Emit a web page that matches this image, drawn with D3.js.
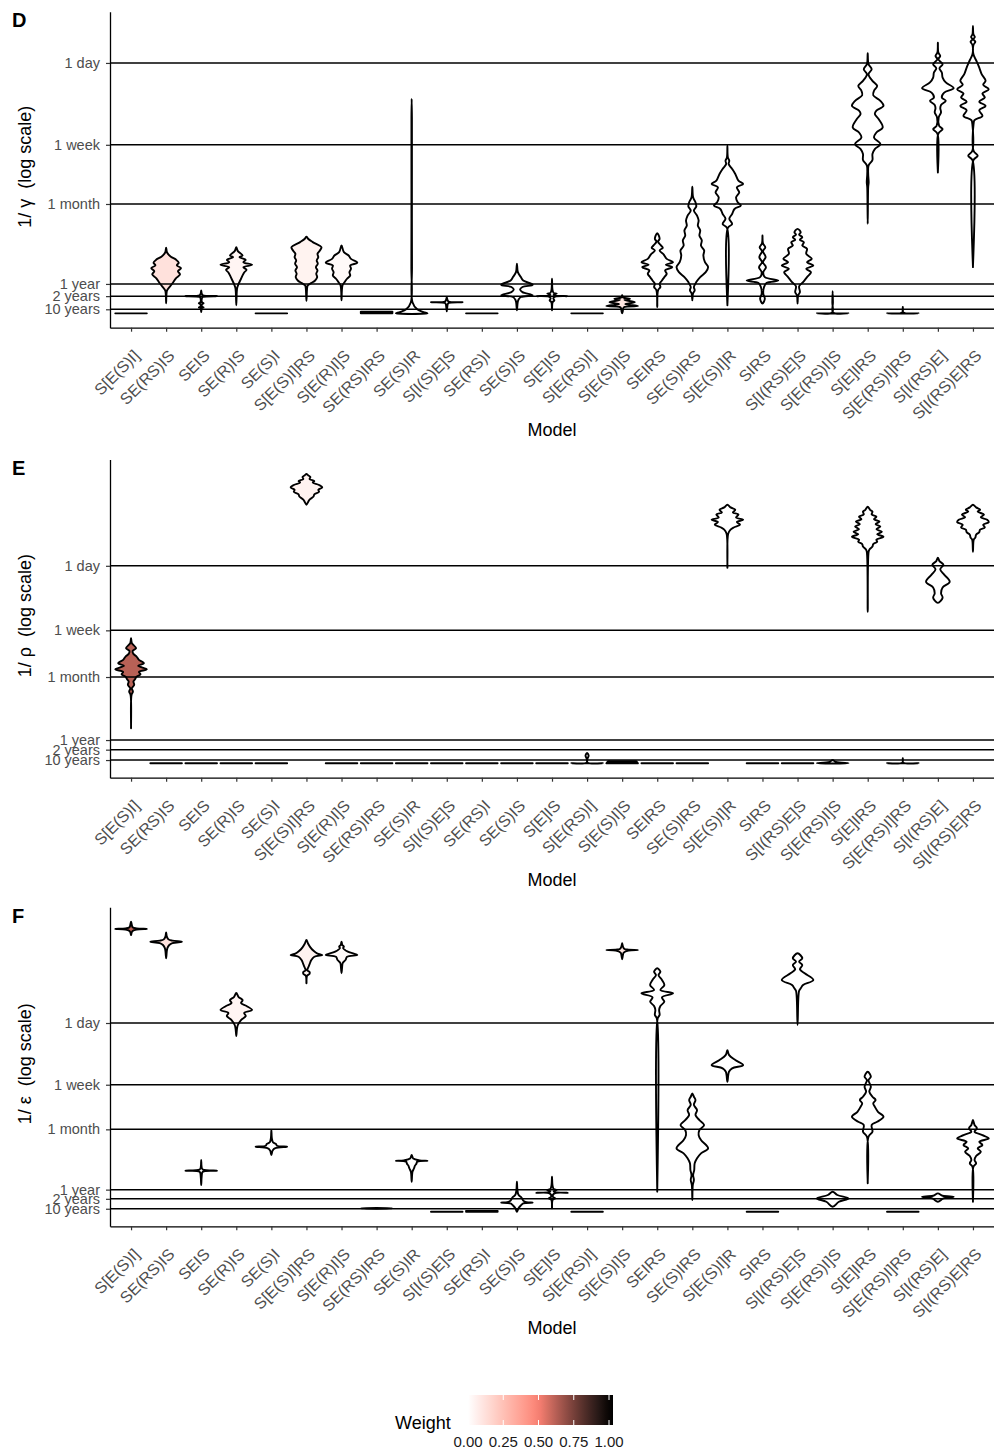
<!DOCTYPE html>
<html>
<head>
<meta charset="utf-8">
<script src="https://cdn.jsdelivr.net/npm/d3@7"></script>
<style>
  body { margin: 0; background: #fff; }
  svg { display: block; font-family: "Liberation Sans", Arial, sans-serif; }
</style>
</head>
<body>
<svg id="chart" width="994" height="1454"></svg>
<script>
// ---- data -------------------------------------------------------------
const models = ["S[E(S)I]","SE(RS)IS","SEIS","SE(R)IS","SE(S)I","S[E(S)I]RS","S[E(R)I]S",
  "SE(RS)IRS","SE(S)IR","S[I(S)E]S","SE(RS)I","SE(S)IS","S[E]IS","S[E(RS)I]","S[E(S)I]S",
  "SEIRS","SE(S)IRS","S[E(S)I]R","SIRS","S[I(RS)E]S","S[E(RS)I]S","S[E]IRS","S[E(RS)I]RS",
  "S[I(RS)E]","S[I(RS)E]RS"];

// model weight (fill colour of every violin of that model)
const modelWeights = [0.62,0.12,0,0.04,0,0.05,0.02,0,0,0,0,0,0,0,0.1,0,0,0,0,0,0,0,0,0,0];

// reference durations (days) drawn as axis ticks / guide lines
const durationDays = [1, 7, 30, 365, 730, 3650];
const durationLabels = ["1 day","1 week","1 month","1 year","2 years","10 years"];
const legendTicks = [0, 0.25, 0.5, 0.75, 1];

// violin density profiles: [rate per year, relative half-width]
const gammaProfiles = [
  [[0,1]],
  [[3.7,0],[3.2,0.06],[2.8,0.3],[2.55,0.62],[2.3,0.8],[2.1,0.68],[1.9,0.94],[1.7,0.75],[1.5,0.88],[1.28,0.62],[1.07,0.44],[0.89,0.25],[0.72,0.06],[0.56,0.02],[0.27,0]],
  [[0.72,0],[0.6,0.03],[0.53,0.1],[0.5,1],[0.47,0.1],[0.42,0.04],[0.3,0.05],[0.27,0.15],[0.24,0.05],[0.17,0.05],[0.15,0.15],[0.13,0.04],[0.03,0]],
  [[3.75,0],[3.33,0.1],[2.91,0.4],[2.76,0.2],[2.53,0.6],[2.34,0.45],[2.14,1],[1.97,0.45],[1.79,0.65],[1.62,0.5],[1.45,0.4],[1.26,0.3],[1.01,0.15],[0.83,0.06],[0.65,0.03],[0.21,0]],
  [[0,1]],
  [[5.1,0],[4.8,0.1],[4.36,0.4],[3.75,0.95],[3.4,0.85],[3.07,0.7],[2.76,0.75],[2.48,0.65],[2.22,0.72],[1.97,0.6],[1.75,0.7],[1.54,0.62],[1.35,0.68],[1.17,0.55],[1.04,0.3],[0.93,0.08],[0.79,0.04],[0.34,0]],
  [[3.94,0],[3.23,0.15],[2.91,0.45],[2.61,0.6],[2.3,1],[2.09,0.55],[1.86,0.6],[1.64,0.5],[1.44,0.55],[1.26,0.35],[1.09,0.2],[0.93,0.06],[0.36,0]],
  [[0.04,1],[0,1]],
  [[156,0],[100,0.015],[20,0.015],[2,0.02],[0.3,0.05],[0.1,0.35],[0.03,0.75],[0,1]],
  [[0.46,0],[0.38,0.04],[0.32,0.12],[0.3,1],[0.28,0.12],[0.24,0.06],[0.15,0.03],[0.05,0]],
  [[0,1]],
  [[2.22,0],[1.64,0.06],[1.35,0.25],[1.17,0.4],[0.96,1],[0.86,0.35],[0.75,0.2],[0.65,0.35],[0.53,1],[0.47,0.25],[0.38,0.1],[0.3,0.05],[0.074,0]],
  [[1.26,0],[0.75,0.03],[0.62,0.1],[0.59,0.3],[0.55,0.1],[0.52,0.2],[0.5,0.95],[0.48,0.2],[0.42,0.08],[0.36,0.15],[0.3,0.04],[0.074,0]],
  [[0,1]],
  [[0.53,0],[0.45,0.06],[0.41,0.5],[0.37,0.15],[0.3,0.8],[0.24,0.2],[0.19,1],[0.15,0.1],[0.05,0.04],[0,0]],
  [[5.61,0],[4.79,0.15],[4.43,0.05],[3.94,0.25],[3.69,0.35],[3.4,0.15],[3.01,0.4],[2.61,0.6],[2.34,1],[2.14,0.55],[1.97,0.95],[1.75,0.5],[1.54,0.6],[1.35,0.45],[1.17,0.3],[1.01,0.15],[0.86,0.2],[0.72,0.05],[0.16,0]],
  [[18.8,0],[14.4,0.05],[12.7,0.2],[11.4,0.25],[10.3,0.1],[9,0.3],[7.9,0.4],[6.9,0.35],[6.05,0.5],[5.26,0.45],[4.57,0.6],[3.94,0.55],[3.4,0.75],[2.91,0.7],[2.34,0.8],[1.97,1],[1.64,0.85],[1.35,0.5],[1.09,0.25],[0.86,0.1],[0.72,0.15],[0.59,0.04],[0.36,0]],
  [[51,0],[38.5,0.03],[35.5,0.12],[32.8,0.08],[29.1,0.3],[25.7,0.5],[21.8,0.7],[20.1,1],[18.5,0.6],[16.3,0.75],[14.4,0.55],[12.7,0.65],[11.7,0.85],[10.7,0.45],[9.4,0.3],[8.3,0.12],[7.2,0.3],[6.5,0.03],[0.21,0]],
  [[5.26,0],[4.2,0.03],[3.75,0.18],[3.33,0.03],[2.76,0.2],[2.34,0.03],[1.97,0.22],[1.64,0.05],[1.35,0.15],[1.17,1],[1.04,0.25],[0.86,0.1],[0.59,0.05],[0.41,0.15],[0.26,0]],
  [[6.33,0],[5.77,0.2],[5.41,0.1],[5.01,0.3],[4.65,0.15],[4.35,0.4],[3.94,0.3],[3.58,0.6],[3.07,0.55],[2.61,0.9],[2.34,0.6],[2.09,1],[1.86,0.55],[1.64,0.85],[1.35,0.6],[1.09,0.35],[0.89,0.1],[0.65,0.15],[0.53,0.04],[0.26,0]],
  [[0.69,0],[0.3,0.02],[0.02,0.03],[0,1]],
  [[459,0],[355,0.05],[315,0.25],[280,0.05],[239,0.3],[212,0.6],[189,0.4],[170,0.35],[149,0.8],[132,1],[118,0.55],[109,0.45],[96,0.7],[79,0.95],[70,0.55],[62,0.4],[53,0.8],[47,0.45],[41.8,0.3],[36.2,0.3],[31.5,0.05],[25.7,0.03],[20.9,0.06],[18.5,0.03],[7.24,0]],
  [[0.16,0],[0.02,0.03],[0,1]],
  [[589,0],[466,0.03],[431,0.15],[398,0.03],[354,0.3],[322,0.1],[291,0.25],[258,0.3],[230,0.5],[201,1],[181,0.4],[161,0.25],[149,0.5],[135,0.2],[125,0.15],[113,0.2],[100,0.05],[82,0.08],[76,0.3],[68,0.03],[26.7,0]],
  [[872,0],[718,0.03],[674,0.12],[637,0.03],[603,0.15],[557,0.03],[448,0.03],[389,0.2],[327,0.4],[280,0.55],[239,0.8],[217,0.65],[196,1],[177,0.6],[161,0.75],[146,0.4],[132,0.8],[119,0.4],[104,0.6],[94,0.1],[86,0.04],[45,0.04],[40,0.3],[36,0.03],[1.97,0]]
];

const rhoProfiles = [
  [[41.1,0],[35.2,0.05],[30.2,0.32],[27.8,0.1],[25.3,0.15],[23.3,0.35],[21,0.5],[18.9,0.82],[17.4,0.45],[15.6,1],[14.3,0.5],[13.3,0.6],[12.3,0.35],[11.3,0.25],[10.5,0.15],[9.4,0.2],[8.4,0.05],[7.5,0.12],[6.7,0.03],[1.84,0]],
  [[0,1]],
  [[0,1]],
  [[0,1]],
  [[0,1]],
  [[5700,0],[5500,0.1],[5200,0.25],[4900,0.2],[4600,0.5],[4400,0.4],[4100,0.8],[3800,1],[3550,0.75],[3350,0.8],[3100,0.5],[2900,0.45],[2650,0.2],[2450,0.1],[2270,0]],
  [[0,1]],
  [[0,1]],
  [[0,1]],
  [[0,1]],
  [[0,1]],
  [[0,1]],
  [[0,1]],
  [[0.36,0],[0.25,0.1],[0.15,0.03],[0.02,0.03],[0,1]],
  [[0.06,0.9],[0,1]],
  [[0,1]],
  [[0,1]],
  [[2270,0],[2100,0.2],[1950,0.5],[1800,0.35],[1700,0.7],[1550,0.55],[1450,1],[1350,0.6],[1250,0.8],[1150,0.4],[1076,0.2],[950,0.05],[344,0]],
  [[0,1]],
  [[0,1]],
  [[0.1,0],[0.04,0.2],[0,1]],
  [[2140,0],[1950,0.15],[1850,0.3],[1700,0.25],[1590,0.55],[1470,0.4],[1370,0.75],[1270,0.5],[1180,0.8],[1090,0.55],[1010,0.9],[940,0.6],[870,1],[800,0.55],[750,0.6],[700,0.35],[650,0.3],[600,0.12],[560,0.06],[91.5,0]],
  [[0.16,0],[0.02,0.03],[0,1]],
  [[464,0],[420,0.1],[376,0.35],[330,0.15],[280,0.4],[226,0.75],[190,0.3],[160,0.2],[140,0.3],[120,0]],
  [[2270,0],[2100,0.2],[1960,0.45],[1850,0.3],[1690,0.7],[1560,0.5],[1450,0.9],[1350,1],[1250,0.65],[1150,0.75],[1076,0.45],[1000,0.4],[926,0.2],[850,0.15],[797,0.05],[556,0]]
];

const epsilonProfiles = [
  [[8690,0],[8000,0.04],[7300,0.1],[7050,0.35],[6920,1],[6800,0.35],[6500,0.1],[6200,0.04],[5730,0]],
  [[6220,0],[5500,0.04],[5000,0.15],[4800,0.4],[4650,1],[4450,0.4],[4200,0.2],[3800,0.08],[3400,0.04],[2770,0]],
  [[4.04,0],[3,0.03],[2.75,0.1],[2.61,1],[2.5,0.1],[2,0.03],[1.31,0]],
  [[934,0],[823,0.15],[749,0.4],[683,0.3],[622,0.65],[549,1],[500,0.5],[454,0.6],[401,0.3],[343,0.1],[300,0.04],[243,0]],
  [[11.9,0],[9,0.03],[7.8,0.1],[7.3,0.3],[6.9,0.35],[6.64,1],[6.3,0.25],[5.8,0.08],[4.9,0]],
  [[4900,0],[4400,0.1],[3900,0.25],[3500,0.45],[3200,0.7],[3068,1],[2900,0.5],[2600,0.3],[2300,0.2],[2000,0.08],[1900,0.05],[1800,0.2],[1700,0.2],[1600,0.04],[1264,0]],
  [[4650,0],[4200,0.05],[3975,0.15],[3800,0.1],[3400,0.4],[3068,1],[2900,0.35],[2623,0.25],[2400,0.08],[2000,0.03],[1730,0]],
  [[0.13,0],[0.114,1],[0.1,0]],
  [[4.9,0],[4.3,0.1],[4,0.5],[3.93,1],[3.8,0.35],[3.5,0.3],[3.2,0.2],[2.9,0.15],[2.5,0.05],[1.56,0]],
  [[0,1]],
  [[0.03,1],[0,1]],
  [[1.56,0],[1,0.03],[0.7,0.1],[0.55,0.3],[0.42,0.4],[0.35,0.6],[0.33,1],[0.3,0.4],[0.22,0.25],[0.12,0.1],[0,0]],
  [[1.99,0],[1.3,0.03],[1.05,0.1],[0.97,0.3],[0.9,0.1],[0.85,0.2],[0.815,1],[0.78,0.15],[0.6,0.05],[0.52,0.2],[0.45,0.04],[0.114,0]],
  [[0,1]],
  [[4420,0],[4000,0.05],[3700,0.15],[3630,0.4],[3580,1],[3520,0.4],[3300,0.1],[3000,0.04],[2680,0]],
  [[2023,0],[1819,0.2],[1640,0.08],[1403,0.3],[1199,0.45],[1025,0.2],[924,1],[816,0.3],[711,0.45],[622,0.2],[549,0.12],[469,0.15],[423,0.03],[0.87,0]],
  [[39.6,0],[35.5,0.1],[32,0.2],[27.2,0.1],[23.1,0.3],[19.6,0.2],[16.6,0.45],[14.1,0.75],[11.9,0.45],[10,0.4],[8.42,0.55],[6.28,1],[5.22,0.55],[4.32,0.3],[3.55,0.15],[2.69,0.12],[2.15,0.05],[1.7,0.1],[1.31,0.03],[0.44,0]],
  [[156,0],[134,0.1],[114,0.5],[97.4,1],[87.7,0.3],[78.8,0.1],[57.3,0]],
  [[0,1]],
  [[3235,0],[2765,0.3],[2488,0.1],[2243,0.3],[1962,0.15],[1730,0.45],[1403,1],[1199,0.35],[1081,0.2],[1004,0.1],[343,0]],
  [[0.87,0],[0.69,0.3],[0.52,1],[0.37,0.4],[0.17,0]],
  [[78.8,0],[67.2,0.2],[60.5,0.05],[48.9,0.2],[41.7,0.1],[35.5,0.3],[32,0.5],[28.7,0.35],[25.7,0.45],[21.8,0.65],[18.5,1],[15.7,0.6],[14.1,0.25],[11.2,0.3],[9.45,0.05],[1.43,0]],
  [[0,1]],
  [[0.78,0],[0.65,0.3],[0.6,1],[0.52,0.35],[0.37,0]],
  [[16.6,0],[14.1,0.1],[12.6,0.25],[11.2,0.1],[10,0.6],[8.93,1],[7.93,0.4],[7.06,0.6],[6.28,0.3],[5.53,0.5],[4.71,0.2],[4.04,0.1],[3.55,0.2],[3.09,0.03],[0.37,0]]
];

// ---- layout -----------------------------------------------------------
const panels = [
  { tag: "D", symbol: "γ", profiles: gammaProfiles,   top: 11.7,  bottom: 327.7 },
  { tag: "E", symbol: "ρ", profiles: rhoProfiles,     top: 459.5, bottom: 777.7 },
  { tag: "F", symbol: "ε", profiles: epsilonProfiles, top: 907.2, bottom: 1226.3 }
];
const plotLeft = 110, plotRight = 994;

const svg = d3.select("#chart");
const x = d3.scalePoint().domain(models).range([plotLeft, plotRight]).padding(0.6);
const halfMax = 0.45 * x.step();
const fillScale = d3.scaleLinear().domain([0, 0.5, 1])
  .range(["#ffffff", "#fa8072", "#000000"]).interpolate(d3.interpolateLab).clamp(true);

const toRate = days => 365 / days;
const log1p10 = r => Math.log10(1 + r);

function violinPath(profile, cx, y) {
  const pts = profile.slice().sort((a, b) => b[0] - a[0]);
  if (pts.length === 1) {
    const yy = y(pts[0][0]), w = pts[0][1] * halfMax;
    return `M${cx + w},${yy}L${cx - w},${yy}Z`;
  }
  const right = pts.map(d => [cx + d[1] * halfMax, y(d[0])]);
  const left = pts.slice().reverse().filter(d => d[1] > 0).map(d => [cx - d[1] * halfMax, y(d[0])]);
  const ring = right.concat(left);
  const curve = pts.length >= 3 ? d3.curveCatmullRomClosed.alpha(0.5) : d3.curveLinearClosed;
  return d3.line().curve(curve)(ring);
}

panels.forEach(p => {
  const g = svg.append("g");
  const maxL = d3.max(p.profiles.flat(), d => log1p10(d[0]));
  const pad = 0.05 * maxL;
  const y = d3.scaleSymlog().constant(1)
    .domain([-(Math.pow(10, pad) - 1), Math.pow(10, maxL + pad) - 1])
    .range([p.bottom, p.top]);

  // violins
  g.append("g").selectAll("path")
    .data(p.profiles)
    .join("path")
    .attr("d", (prof, i) => violinPath(prof, x(models[i]), y))
    .attr("fill", (prof, i) => fillScale(modelWeights[i]))
    .attr("stroke", "#000")
    .attr("stroke-width", 1.9)
    .attr("stroke-linejoin", "round");

  // guide lines at reference durations
  g.append("g").selectAll("line")
    .data(durationDays)
    .join("line")
    .attr("x1", plotLeft).attr("x2", plotRight)
    .attr("y1", d => y(toRate(d))).attr("y2", d => y(toRate(d)))
    .attr("stroke", "#000").attr("stroke-width", 1.5);

  // y axis
  const yAxis = g.append("g").attr("transform", `translate(${plotLeft},0)`)
    .call(d3.axisLeft(y).tickValues(durationDays.map(toRate))
      .tickFormat((d, i) => durationLabels[i]).tickSize(4).tickSizeOuter(0).tickPadding(6));
  yAxis.select(".domain").attr("stroke", "#000").attr("stroke-width", 1.3);
  yAxis.selectAll(".tick line").attr("stroke", "#333").attr("stroke-width", 1.2);
  yAxis.selectAll(".tick text").attr("fill", "#4d4d4d").attr("font-size", 14.5)
    .attr("font-family", "Liberation Sans, Arial, sans-serif");

  // x axis
  const xAxis = g.append("g").attr("transform", `translate(0,${p.bottom})`)
    .call(d3.axisBottom(x).tickSize(4).tickSizeOuter(0));
  xAxis.select(".domain").attr("stroke", "#000").attr("stroke-width", 1.3);
  xAxis.selectAll(".tick line").attr("stroke", "#333").attr("stroke-width", 1.2);
  xAxis.selectAll(".tick text")
    .attr("x", 0).attr("y", 0).attr("dy", null)
    .attr("transform", "translate(9,29) rotate(-45)")
    .attr("text-anchor", "end")
    .attr("fill", "#4d4d4d").attr("font-size", 16)
    .attr("font-family", "Liberation Sans, Arial, sans-serif");

  // titles
  g.append("text")
    .attr("x", (plotLeft + plotRight) / 2).attr("y", p.bottom + 108)
    .attr("text-anchor", "middle").attr("font-size", 18).attr("fill", "#000")
    .text("Model");
  const cy = (p.top + p.bottom) / 2 - 3;
  g.append("text")
    .attr("transform", `translate(31,${cy}) rotate(-90)`)
    .attr("text-anchor", "middle").attr("font-size", 18).attr("fill", "#000")
    .style("white-space", "pre")
    .text(`1/ ${p.symbol}  (log scale)`);
  g.append("text")
    .attr("x", 12).attr("y", p.top + 15.5)
    .attr("font-size", 20).attr("font-weight", "bold").attr("fill", "#000")
    .text(p.tag);
});

// ---- colour legend ----------------------------------------------------
const legendX = d3.scaleLinear().domain([0, 1]).range([468, 609]);
const barTop = 1395, barH = 30, barLeft = 468, barRight = 613;
const grad = svg.append("defs").append("linearGradient").attr("id", "weightGrad");
d3.range(0, 1.0001, 0.05).forEach(t => {
  const v = legendX.invert(barLeft + t * (barRight - barLeft));
  grad.append("stop").attr("offset", t).attr("stop-color", fillScale(v));
});
svg.append("rect").attr("x", barLeft).attr("y", barTop)
  .attr("width", barRight - barLeft).attr("height", barH).attr("fill", "url(#weightGrad)");
const lg = svg.append("g");
lg.selectAll("line.top").data(legendTicks).join("line").attr("class", "top")
  .attr("x1", d => legendX(d)).attr("x2", d => legendX(d))
  .attr("y1", barTop).attr("y2", barTop + 5).attr("stroke", "#fff").attr("stroke-width", 1);
lg.selectAll("line.bot").data(legendTicks).join("line").attr("class", "bot")
  .attr("x1", d => legendX(d)).attr("x2", d => legendX(d))
  .attr("y1", barTop + barH - 5).attr("y2", barTop + barH).attr("stroke", "#fff").attr("stroke-width", 1);
lg.selectAll("text").data(legendTicks).join("text")
  .attr("x", d => legendX(d)).attr("y", 1447)
  .attr("text-anchor", "middle").attr("font-size", 15).attr("fill", "#1a1a1a")
  .text(d => d.toFixed(2));
svg.append("text").attr("x", 395).attr("y", 1429)
  .attr("font-size", 18).attr("fill", "#000").text("Weight");
</script>
</body>
</html>
